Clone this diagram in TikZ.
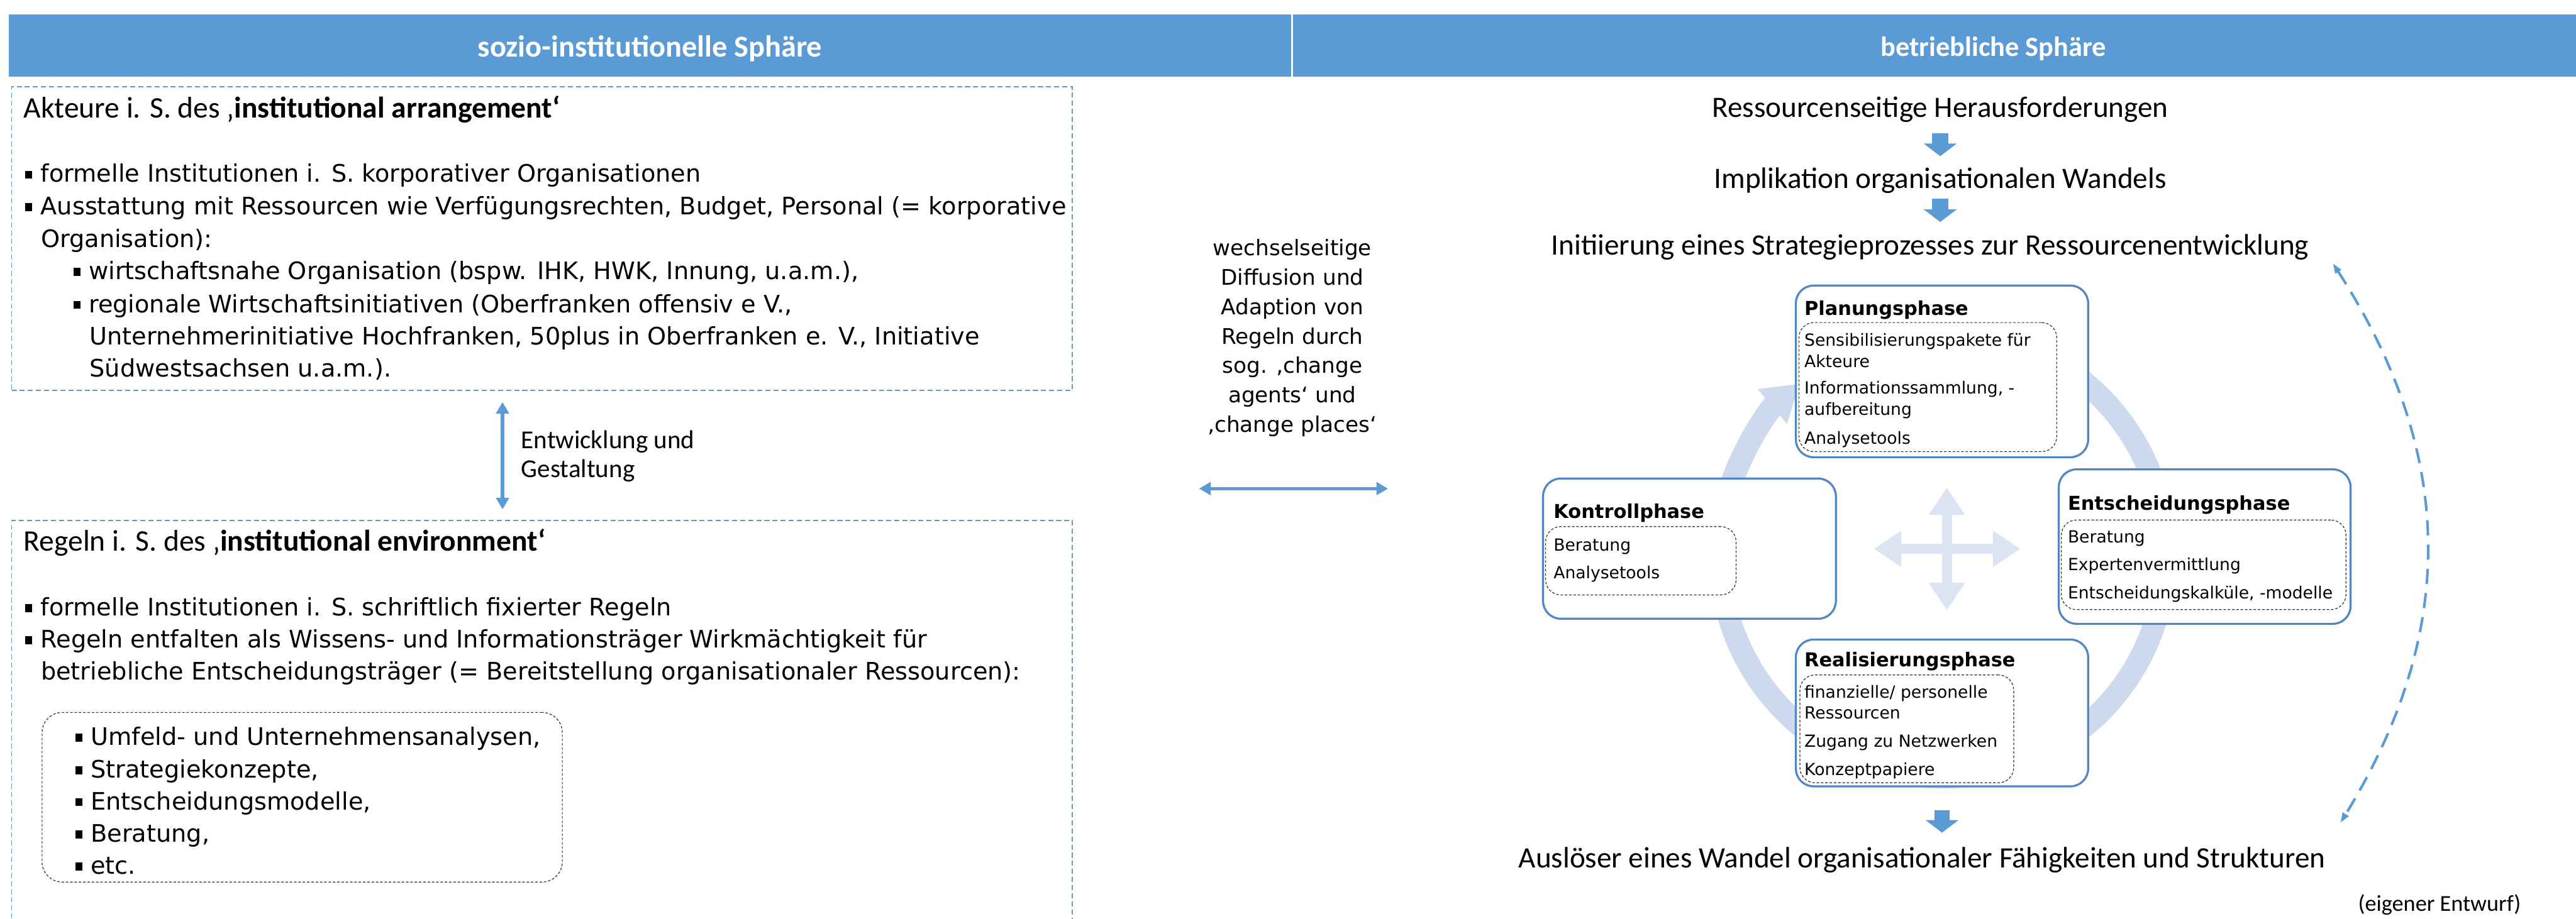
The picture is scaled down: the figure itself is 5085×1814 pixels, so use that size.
\documentclass[tikz,border=0pt]{standalone}
\usepackage{fontspec}
\setmainfont{Carlito}
\newfontfamily\vfont{DejaVu Sans}
\usetikzlibrary{arrows.meta,fit}
\definecolor{headblue}{RGB}{91,155,213}
\definecolor{ringblue}{RGB}{205,218,238}
\definecolor{crossblue}{RGB}{219,228,243}
\definecolor{phaseblue}{RGB}{79,134,198}
\newcommand\sq{\rule[0.15em]{0.29em}{0.33em}\hspace{0.35em}}
\tikzset{every picture/.style={line width=0.75pt}}

\begin{document}
\begin{tikzpicture}[x=0.2pt,y=0.2pt,yscale=-1,
  headtxt/.style={text=white, font=\bfseries\fontsize{12}{14}\selectfont, inner sep=0pt, anchor=base},
  panel/.style={draw=headblue, line width=0.4pt, dash pattern=on 2pt off 1.2pt, inner sep=0pt},
  listbox/.style={draw=black!80, line width=0.3pt, dash pattern=on 1pt off 0.7pt, rounded corners=8pt, inner sep=0pt},
  phasebox/.style={draw=phaseblue, line width=0.8pt, fill=white, rounded corners=7pt, inner sep=0pt},
  innerbox/.style={draw=black!80, line width=0.3pt, dash pattern=on 1pt off 0.7pt, rounded corners=6pt, inner sep=0pt},
  titletxt/.style={font=\fontsize{11.8}{14}\selectfont, inner sep=0pt, anchor=base west},
  bodytxt/.style={font=\vfont\fontsize{9.5}{12.8}\selectfont, inner sep=0pt, anchor=base west},
  flowtxt/.style={font=\fontsize{11.7}{14}\selectfont, inner sep=0pt, anchor=base},
  phasetitle/.style={font=\vfont\bfseries\fontsize{7.55}{9}\selectfont, inner sep=0pt, anchor=base west},
  phasetxt/.style={font=\vfont\fontsize{6.6}{8.4}\selectfont, inner sep=0pt, anchor=base west},
  biarrow/.style={draw=headblue, line width=1.3pt, {Triangle[length=4.6pt,width=5pt]}-{Triangle[length=4.6pt,width=5pt]}},
  flowarrow/.style={draw=headblue, line width=6.6pt, -{Triangle[length=5pt,width=12.8pt]}},
  crossarrow/.style={draw=crossblue, line width=4pt, {Triangle[length=10.8pt,width=13.6pt]}-{Triangle[length=10.8pt,width=13.6pt]}},
  ringarrow/.style={draw=ringblue, line width=8.8pt, -{Triangle[length=14pt,width=17pt]}},
  loopline/.style={draw=headblue, line width=1pt, dash pattern=on 6pt off 3.6pt, {Triangle[length=4pt,width=2.6pt]}-{Triangle[length=4pt,width=2.6pt]}}
]
\useasboundingbox (0,0) rectangle (5085,1814);

% header bands
\fill[headblue] (18,28) rectangle (2549,151);
\fill[headblue] (2553,28) rectangle (5100,151);
\node[headtxt] (hdrL) at (1283,112) {sozio-institutionelle Sphäre};
\node[headtxt, font=\bfseries\fontsize{11}{13}\selectfont] (hdrR) at (3935,111) {betriebliche Sphäre};

% left: actors
\node[panel, fit={(23,171) (2117,771)}] (akteure) {};
\node[titletxt] (akTitle) at (45,233) {Akteure i. S. des ‚\textbf{institutional arrangement‘}};
\foreach \x/\y/\t [count=\i] in {
  48/360/{\sq formelle Institutionen i. S. korporativer Organisationen},
  48/424/{\sq Ausstattung mit Ressourcen wie Verfügungsrechten, Budget, Personal (= korporative},
  79/488/{Organisation):},
  143/552/{\sq wirtschaftsnahe Organisation (bspw. IHK, HWK, Innung,  u.a.m.),},
  143/617/{\sq regionale Wirtschaftsinitiativen (Oberfranken offensiv e V.,},
  175/681/{Unternehmerinitiative Hochfranken, 50plus in Oberfranken e. V., Initiative},
  175/744/{Südwestsachsen u.a.m.).}}
  \node[bodytxt] (ak\i) at (\x,\y) {\t};

% left: rules
\node[panel, fit={(23,1028) (2117,1840)}] (regeln) {};
\node[titletxt] (reTitle) at (45,1088) {Regeln i. S. des ‚\textbf{institutional environment‘}};
\foreach \x/\y/\t [count=\i] in {
  48/1216/{\sq formelle Institutionen i. S. schriftlich fixierter Regeln},
  48/1279/{\sq Regeln entfalten als Wissens- und Informationsträger Wirkmächtigkeit für},
  79/1343/{betriebliche Entscheidungsträger (= Bereitstellung organisationaler Ressourcen):}}
  \node[bodytxt] (re\i) at (\x,\y) {\t};
\node[listbox, fit={(83,1407) (1110,1742)}] (tools) {};
\foreach \y/\t [count=\i] in {1472/{Umfeld- und Unternehmensanalysen,}, 1536/{Strategiekonzepte,},
  1599/{Entscheidungsmodelle,}, 1663/{Beratung,}, 1726/{etc.}}
  \node[bodytxt] (tool\i) at (147,\y) {\sq\t};

% development and design
\draw[biarrow, shorten <=4.4pt, shorten >=4.2pt] ([xshift=-15.6pt]akteure.south) -- ([xshift=-15.6pt]regeln.north);
\node[font=\fontsize{10.2}{11.4}\selectfont, align=left, anchor=north west, inner sep=0pt] (entw) at (1027,849) {Entwicklung und\\Gestaltung};

% diffusion between spheres
\node[font=\vfont\fontsize{8.5}{11.6}\selectfont, align=center, anchor=north, inner sep=0pt] (diff) at (2551,471)
  {wechselseitige\\Diffusion und\\Adaption von\\Regeln durch\\sog. ‚change\\agents‘ und\\‚change places‘};
\coordinate (diffL) at (2367,965);
\coordinate (diffR) at (2740,965);
\draw[biarrow] (diffL) -- (diffR);

% right: flow
\node[flowtxt] (res) at (3830,232) {Ressourcenseitige Herausforderungen};
\node[flowtxt] (impl) at (3830,372) {Implikation organisationalen Wandels};
\node[flowtxt] (init) at (3810,503) {Initiierung eines Strategieprozesses zur Ressourcenentwicklung};
\draw[flowarrow, shorten <=3.8pt, shorten >=4.2pt] (res) -- (impl);
\draw[flowarrow, shorten <=1.6pt, shorten >=4.4pt] (impl.south) -- (impl.south |- init.north);

% cycle
\coordinate (ringc) at (3835,1095);
\draw[ringarrow] ([shift={(-70:440)}]ringc) arc[start angle=-70, end angle=230, radius=440];
\coordinate (crossN) at (3843,963);
\coordinate (crossS) at (3843,1205);
\coordinate (crossW) at (3699,1084);
\coordinate (crossE) at (3988,1084);
\draw[crossarrow] (crossN) -- (crossS);
\draw[crossarrow] (crossW) -- (crossE);

% phases
\node[phasebox, fit={(3545,564) (4122,903)}] (plan) {};
\node[phasetitle] (planT) at (3560,622) {Planungsphase};
\node[innerbox, fit={(3551,637) (4060,892)}] (planI) {};
\foreach \y/\t [count=\i] in {683/{Sensibilisierungspakete für}, 725/{Akteure}, 778/{Informationssammlung, -}, 820/{aufbereitung}, 877/{Analysetools}}
  \node[phasetxt] (plan\i) at (3560,\y) {\t};

\node[phasebox, fit={(4064,927) (4640,1232)}] (ent) {};
\node[phasetitle] (entT) at (4080,1008) {Entscheidungsphase};
\node[innerbox, fit={(4069,1027) (4631,1204)}] (entI) {};
\foreach \y/\t [count=\i] in {1072/{Beratung}, 1127/{Expertenvermittlung}, 1183/{Entscheidungskalküle, -modelle}}
  \node[phasetxt] (ent\i) at (4080,\y) {\t};

\node[phasebox, fit={(3545,1263) (4122,1553)}] (real) {};
\node[phasetitle] (realT) at (3560,1316) {Realisierungsphase};
\node[innerbox, fit={(3553,1333) (3975,1546)}] (realI) {};
\foreach \y/\t [count=\i] in {1378/{finanzielle/ personelle}, 1420/{Ressourcen}, 1475/{Zugang zu Netzwerken}, 1531/{Konzeptpapiere}}
  \node[phasetxt] (real\i) at (3560,\y) {\t};

\node[phasebox, fit={(3046,945) (3624,1222)}] (kon) {};
\node[phasetitle] (konT) at (3065,1024) {Kontrollphase};
\node[innerbox, fit={(3051,1040) (3427,1175)}] (konI) {};
\foreach \y/\t [count=\i] in {1088/{Beratung}, 1143/{Analysetools}}
  \node[phasetxt] (kon\i) at (3065,\y) {\t};

% outcome
\node[flowtxt] (ausl) at (3794,1714) {Auslöser eines Wandel organisationaler Fähigkeiten und Strukturen};
\draw[flowarrow, line width=6pt, shorten <=9pt, shorten >=5.4pt] (real.south) -- (real.south |- ausl.north);
\node[font=\fontsize{9}{11}\selectfont, inner sep=0pt, anchor=base west] (src) at (4653,1800) {(eigener Entwurf)};

% feedback
\coordinate (loopT) at (4605,520);
\coordinate (loopB) at (4620,1625);
\draw[loopline] (loopT) .. controls (4850,900) and (4850,1250) .. (loopB);
\end{tikzpicture}
\end{document}
